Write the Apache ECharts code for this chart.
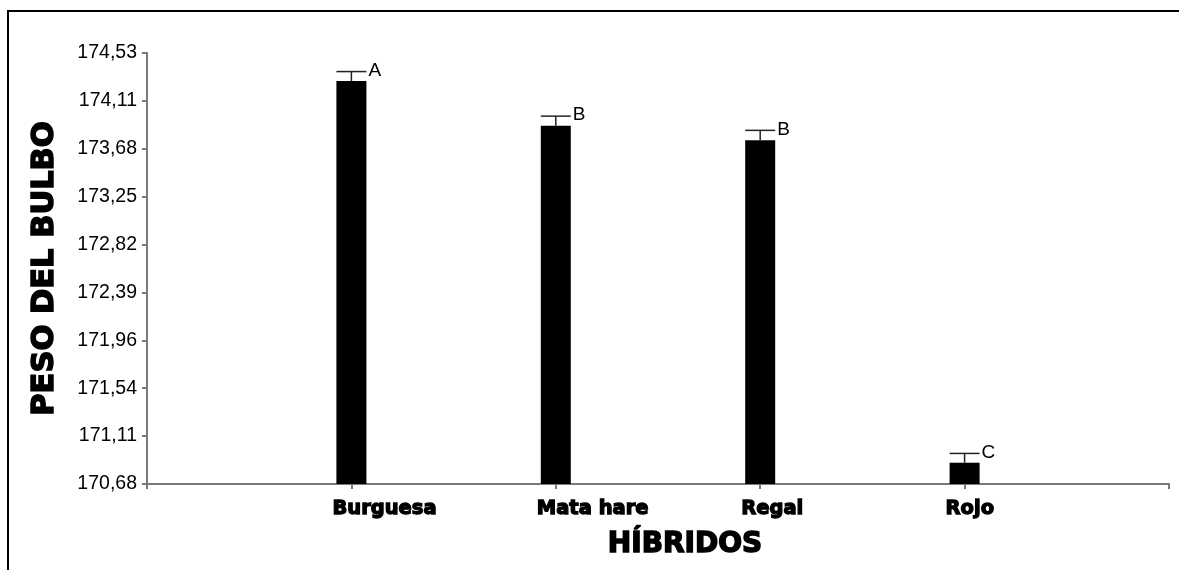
<!DOCTYPE html>
<html>
<head>
<meta charset="utf-8">
<script src="https://cdn.jsdelivr.net/npm/echarts@6/dist/echarts.min.js"></script>
<style>
html,body{margin:0;padding:0;background:#fff;}
#chart{width:1179px;height:570px;}
</style>
</head>
<body>
<div id="chart"></div>
<script>
// ---- data ----
const categories = ['Burguesa', 'Mata hare', 'Regal', 'Rojo'];
const pesoValues = [174.28, 173.88, 173.75, 170.87];
const errorValues = [0.084, 0.086, 0.089, 0.083];
const letters = ['A', 'B', 'B', 'C'];
const tickLabels = ['170,68', '171,11', '171,54', '171,96', '172,39', '172,82', '173,25', '173,68', '174,11', '174,53'];
const yMin = 170.68;
const yMax = 174.53;

// ---- build ----
const step = (yMax - yMin) / (tickLabels.length - 1);
const axisCats = [''].concat(categories, ['']);
const barData = pesoValues.map((v, i) => [i + 1, v - yMin]);
const errData = pesoValues.map((v, i) => [i + 1, v - yMin, errorValues[i], letters[i]]);

const chart = echarts.init(document.getElementById('chart'), null, {renderer: 'canvas'});
chart.setOption({
  animation: false,
  backgroundColor: '#ffffff',
  grid: {left: 147, right: 10, top: 53, bottom: 86, containLabel: false},
  graphic: [
    {type: 'line', shape: {x1: 7, y1: 11, x2: 1179, y2: 11}, style: {stroke: '#000', lineWidth: 2}},
    {type: 'line', shape: {x1: 8, y1: 10, x2: 8, y2: 570}, style: {stroke: '#000', lineWidth: 2}}
  ],
  xAxis: {
    type: 'category',
    data: axisCats,
    boundaryGap: false,
    axisLine: {lineStyle: {color: '#7a7a7a', width: 2}},
    axisTick: {show: true, length: 5, lineStyle: {color: '#7a7a7a', width: 2}, interval: 0},
    axisLabel: {
      interval: 0,
      color: '#000',
      fontFamily: 'DejaVu Sans',
      fontWeight: 'bold',
      fontSize: 19.5,
      textBorderColor: '#000',
      textBorderWidth: 1.3,
      margin: 15,
      align: 'left',
      padding: [0, 0, 0, -19]
    },
    splitLine: {show: false},
    name: 'HÍBRIDOS',
    nameLocation: 'middle',
    nameGap: 47,
    nameTextStyle: {color: '#000', fontFamily: 'DejaVu Sans', fontWeight: 'bold', fontSize: 28, textBorderColor: '#000', textBorderWidth: 1.5, padding: [0, 0, 0, 54]}
  },
  yAxis: {
    type: 'value',
    min: 0,
    max: yMax - yMin,
    interval: step,
    axisLine: {show: true, lineStyle: {color: '#7a7a7a', width: 2}},
    axisTick: {show: true, length: 5, lineStyle: {color: '#7a7a7a', width: 2}},
    splitLine: {show: false},
    axisLabel: {
      color: '#000',
      fontFamily: 'Liberation Sans',
      fontSize: 19.5,
      margin: 10,
      formatter: function (value) {
        const idx = Math.round(value / step);
        return tickLabels[idx] !== undefined ? tickLabels[idx] : '';
      }
    },
    name: 'PESO DEL BULBO',
    nameLocation: 'middle',
    nameGap: 86,
    nameRotate: 90,
    nameTextStyle: {color: '#000', fontFamily: 'DejaVu Sans', fontWeight: 'bold', fontSize: 30.5, textBorderColor: '#000', textBorderWidth: 1.5}
  },
  series: [
    {
      type: 'bar',
      data: barData,
      barWidth: 30,
      itemStyle: {color: '#000'},
      silent: true
    },
    {
      type: 'custom',
      data: errData,
      silent: true,
      z: 5,
      renderItem: function (params, api) {
        const x = api.value(0);
        const v = api.value(1);
        const e = api.value(2);
        const letter = errData[params.dataIndex][3];
        const base = api.coord([x, v]);
        const top = api.coord([x, v + e]);
        const half = 15;
        return {
          type: 'group',
          children: [
            {type: 'line', shape: {x1: top[0], y1: base[1], x2: top[0], y2: top[1]}, style: {stroke: '#222', lineWidth: 1.5}},
            {type: 'line', shape: {x1: top[0] - half, y1: top[1], x2: top[0] + half, y2: top[1]}, style: {stroke: '#222', lineWidth: 1.5}},
            {type: 'text', x: top[0] + half + 2, y: top[1] - 1, style: {text: letter, fill: '#000', font: '19px "Liberation Sans"', align: 'left', verticalAlign: 'middle'}}
          ]
        };
      }
    }
  ]
});
</script>
</body>
</html>
